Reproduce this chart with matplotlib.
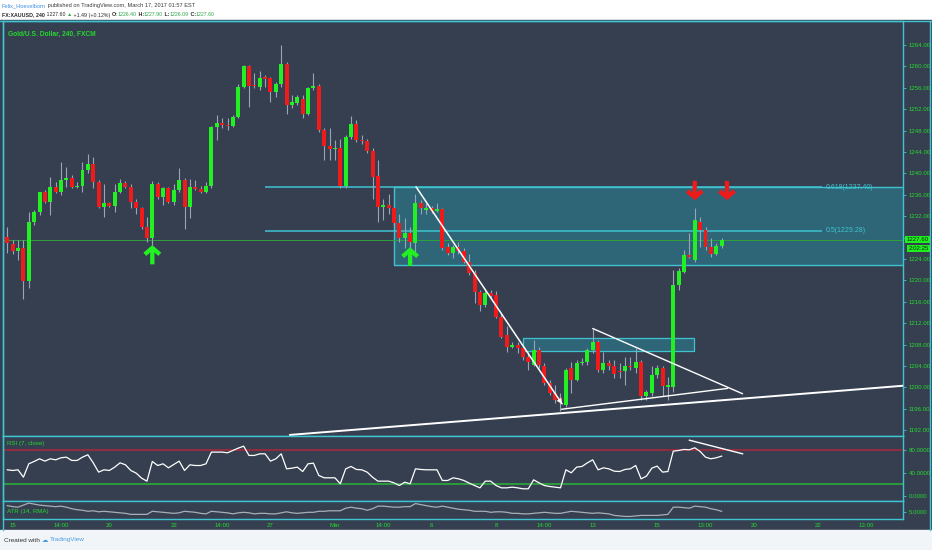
import matplotlib
matplotlib.use("Agg")
import matplotlib.pyplot as plt
import numpy as np
from matplotlib.patches import Rectangle, FancyArrowPatch
from matplotlib.lines import Line2D

plt.rcParams['font.family'] = ['Liberation Sans', 'DejaVu Sans']

# ---- data: XAUUSD 4h candles, bar 0 = first bar of Feb 15 ----
first_bar = -1
opens = [1228.2, 1226.8, 1225.5, 1226.0, 1219.9, 1231.0, 1232.8, 1236.5, 1234.7, 1237.5,
         1236.6, 1238.8, 1239.1, 1237.5, 1237.7, 1240.6, 1241.8, 1238.4, 1233.8, 1234.5,
         1234.0, 1236.6, 1238.3, 1237.4, 1234.7, 1233.5, 1229.9, 1227.9, 1238.1, 1235.5,
         1237.2, 1234.7, 1236.9, 1238.8, 1233.8, 1237.5, 1237.1, 1236.6, 1237.6, 1248.6,
         1249.4, 1249.0, 1248.9, 1250.6, 1256.2, 1260.1, 1256.6, 1256.2, 1258.0, 1257.8,
         1255.3, 1256.7, 1260.4, 1252.8, 1253.2, 1254.0, 1251.1, 1255.9, 1256.3, 1248.2,
         1245.1, 1244.5, 1244.7, 1237.6, 1246.9, 1249.2, 1246.3, 1246.0, 1244.1, 1239.5,
         1233.8, 1234.1, 1233.5, 1230.7, 1227.9, 1228.9, 1227.0, 1234.5, 1233.2, 1233.5,
         1233.0, 1233.3, 1226.2, 1225.2, 1226.2, 1225.4, 1223.5, 1221.3, 1217.9, 1215.4,
         1217.6, 1217.3, 1213.2, 1209.8, 1207.6, 1207.9, 1207.3, 1205.7, 1204.2, 1207.0,
         1203.9, 1200.8, 1199.0, 1198.0, 1196.7, 1203.6, 1201.4, 1204.5, 1204.8, 1206.9,
         1208.5, 1203.3, 1204.6, 1204.0, 1203.1, 1203.0, 1204.0, 1203.6, 1204.8, 1198.4,
         1199.0, 1202.3, 1203.7, 1200.1, 1200.1, 1219.1, 1221.6, 1224.7, 1223.8, 1231.0,
         1229.5, 1226.2, 1224.9, 1226.40]
highs = [1230.0, 1227.5, 1227.5, 1227.5, 1232.8, 1233.1, 1236.6, 1236.9, 1239.4, 1238.4,
         1242.2, 1241.2, 1239.7, 1238.4, 1242.2, 1243.7, 1243.1, 1238.8, 1238.1, 1234.7,
         1238.1, 1238.9, 1238.6, 1238.1, 1235.3, 1233.8, 1231.9, 1238.6, 1238.4, 1237.5,
         1237.5, 1238.1, 1241.0, 1239.1, 1238.9, 1238.8, 1237.7, 1238.4, 1248.9, 1250.9,
         1250.3, 1250.3, 1250.9, 1256.8, 1260.3, 1260.3, 1258.7, 1259.2, 1258.4, 1258.1,
         1257.1, 1264.0, 1260.9, 1254.6, 1254.6, 1254.6, 1256.2, 1258.7, 1256.8, 1248.4,
         1248.4, 1246.2, 1246.5, 1247.2, 1250.7, 1250.0, 1247.2, 1246.5, 1244.7, 1242.5,
         1235.3, 1236.1, 1233.8, 1232.5, 1231.6, 1230.0, 1236.1, 1235.0, 1234.4, 1234.0,
         1234.4, 1233.5, 1226.9, 1226.6, 1227.2, 1226.0, 1225.0, 1221.9, 1218.2, 1218.2,
         1218.2, 1218.1, 1213.8, 1211.4, 1208.5, 1208.5, 1207.6, 1206.7, 1208.9, 1207.6,
         1204.5, 1201.4, 1200.4, 1198.9, 1203.6, 1204.8, 1205.1, 1205.4, 1207.3, 1211.0,
         1208.9, 1206.7, 1205.1, 1205.1, 1204.5, 1205.7, 1205.7, 1207.3, 1205.1, 1199.5,
         1203.9, 1204.2, 1204.0, 1202.0, 1222.0, 1222.3, 1225.7, 1228.8, 1233.6, 1231.9,
         1229.9, 1227.9, 1226.9, 1227.90]
lows = [1225.1, 1225.0, 1223.8, 1216.6, 1218.5, 1230.4, 1232.2, 1234.4, 1232.2, 1236.3,
        1236.0, 1237.5, 1237.2, 1237.2, 1236.6, 1240.0, 1237.2, 1233.5, 1231.9, 1233.8,
        1232.8, 1236.3, 1237.2, 1233.5, 1232.5, 1229.7, 1227.2, 1226.6, 1235.3, 1234.1,
        1234.4, 1234.1, 1236.6, 1229.7, 1231.6, 1236.9, 1236.3, 1236.3, 1237.2, 1246.2,
        1248.4, 1248.1, 1248.7, 1250.3, 1255.9, 1252.5, 1255.9, 1255.6, 1256.2, 1253.4,
        1254.3, 1256.2, 1251.2, 1252.2, 1252.8, 1250.3, 1250.9, 1255.6, 1247.8, 1242.5,
        1242.5, 1242.5, 1237.2, 1237.2, 1246.5, 1245.9, 1245.5, 1243.8, 1235.3, 1231.0,
        1231.3, 1232.5, 1230.0, 1227.2, 1226.0, 1226.0, 1225.0, 1232.5, 1232.5, 1232.6,
        1232.7, 1225.7, 1224.7, 1224.1, 1225.0, 1223.2, 1221.0, 1215.7, 1214.2, 1215.1,
        1216.5, 1212.9, 1209.2, 1206.7, 1207.3, 1206.4, 1205.1, 1203.3, 1203.9, 1203.6,
        1200.4, 1198.6, 1197.0, 1195.5, 1196.4, 1198.9, 1201.1, 1204.2, 1204.2, 1206.5,
        1202.9, 1202.6, 1203.3, 1201.7, 1201.7, 1200.5, 1203.3, 1202.6, 1197.7, 1197.7,
        1198.3, 1201.7, 1198.3, 1197.7, 1199.2, 1218.2, 1221.3, 1224.1, 1223.5, 1226.3,
        1225.7, 1224.4, 1224.7, 1226.09]
closes = [1226.9, 1225.5, 1226.0, 1219.9, 1231.0, 1232.8, 1236.5, 1234.7, 1237.5, 1236.6,
          1238.8, 1239.1, 1237.5, 1237.7, 1240.6, 1241.8, 1238.4, 1233.8, 1234.5, 1234.0,
          1236.6, 1238.3, 1237.4, 1234.7, 1233.5, 1229.9, 1227.9, 1238.1, 1235.5, 1237.2,
          1234.7, 1236.9, 1238.8, 1233.8, 1237.5, 1237.1, 1236.6, 1237.6, 1248.6, 1249.4,
          1249.0, 1248.9, 1250.6, 1256.2, 1260.1, 1256.3, 1256.3, 1257.8, 1257.6, 1255.3,
          1256.8, 1260.4, 1252.8, 1253.4, 1254.2, 1251.2, 1255.9, 1256.3, 1248.2, 1245.1,
          1244.5, 1244.7, 1237.6, 1246.9, 1249.2, 1246.2, 1246.0, 1244.1, 1239.4, 1233.8,
          1234.1, 1233.5, 1230.7, 1227.9, 1228.9, 1227.2, 1234.5, 1233.5, 1233.5, 1233.0,
          1233.3, 1226.0, 1225.2, 1226.2, 1225.4, 1223.5, 1221.3, 1217.9, 1215.4, 1217.6,
          1217.0, 1213.2, 1209.5, 1207.6, 1207.9, 1207.3, 1205.7, 1204.8, 1207.0, 1204.2,
          1200.8, 1198.9, 1197.6, 1197.0, 1203.3, 1201.4, 1204.5, 1204.8, 1207.0, 1208.5,
          1203.3, 1204.6, 1203.9, 1202.5, 1202.8, 1203.9, 1203.8, 1204.8, 1198.4, 1199.2,
          1202.3, 1203.6, 1200.3, 1200.4, 1219.1, 1221.8, 1224.7, 1224.3, 1231.2, 1229.4,
          1226.2, 1224.9, 1226.4, 1227.60]
rsi = [45.9, 44.7, 45.9, 32.9, 56.5, 60.6, 65.3, 61.2, 65.3, 63.5,
       67.1, 68.2, 62.4, 62.4, 68.2, 72.4, 58.2, 41.8, 45.9, 44.7,
       50.6, 58.2, 54.7, 44.7, 40.0, 31.2, 25.9, 60.6, 53.5, 56.5,
       49.4, 55.3, 61.2, 44.7, 54.7, 53.5, 53.5, 56.5, 77.1, 77.1,
       77.1, 75.9, 80.0, 84.1, 87.6, 71.2, 71.2, 74.1, 74.1, 61.2,
       65.3, 74.1, 47.6, 48.8, 50.6, 42.9, 56.5, 57.6, 35.9, 31.8,
       31.8, 31.8, 21.2, 47.6, 51.8, 46.5, 45.9, 41.8, 32.9, 25.9,
       25.9, 25.9, 22.9, 18.2, 24.1, 21.2, 47.6, 46.5, 45.9, 45.9,
       45.9, 27.1, 27.1, 31.8, 30.0, 27.1, 22.4, 18.2, 14.1, 25.9,
       25.9, 18.2, 14.1, 14.1, 15.3, 14.1, 12.4, 12.4, 28.2, 22.9,
       18.2, 16.5, 15.3, 14.1, 45.9, 40.6, 50.6, 51.8, 58.2, 63.5,
       45.9, 49.4, 47.6, 43.5, 42.9, 46.5, 47.6, 53.5, 30.0, 34.7,
       48.8, 52.4, 41.8, 42.9, 78.8, 80.0, 81.8, 81.2, 84.7, 78.2,
       68.2, 65.3, 67.1, 70.0]
atr = [6.2, 6.0, 5.9, 6.3, 6.7, 6.5, 6.3, 6.2, 6.1, 6.0,
       6.1, 5.9, 5.6, 5.4, 5.3, 5.1, 5.2, 5.0, 5.1, 5.0,
       4.9, 4.8, 4.7, 4.5, 4.5, 4.5, 4.5, 5.1, 5.0, 4.9,
       4.8, 4.7, 4.8, 5.1, 5.0, 4.9, 4.7, 4.6, 5.1, 5.0,
       4.9, 4.8, 4.6, 4.8, 4.9, 4.8, 4.6, 4.7, 4.7, 4.6,
       4.6, 4.8, 5.0, 4.8, 4.7, 4.8, 4.9, 4.9, 5.1, 5.1,
       5.2, 5.2, 5.2, 5.7, 5.9, 5.7, 5.6, 5.3, 5.6, 6.1,
       6.1, 6.0, 5.9, 5.9, 6.0, 6.0, 6.6, 6.4, 6.2, 6.0,
       5.9, 6.1, 5.9, 5.7, 5.5, 5.4, 5.3, 5.1, 5.1, 5.1,
       4.9, 5.0, 5.0, 4.9, 4.7, 4.7, 4.6, 4.6, 4.7, 4.8,
       4.9, 4.8, 4.7, 4.7, 4.9, 5.1, 5.0, 4.9, 4.8, 4.7,
       4.8, 4.7, 4.6, 4.3, 4.2, 4.1, 4.1, 4.2, 4.3, 4.3,
       4.3, 4.3, 4.4, 4.5, 5.9, 5.9, 5.8, 5.7, 6.1, 6.0,
       5.9, 5.6, 5.4, 5.1]

tick_bars = [0, 9, 18, 30, 39, 48, 60, 69, 78, 90, 99, 108, 120, 129, 138, 150, 159]
tick_names = ['15', '14:00', '20', '22', '14:00', '27', 'Mar', '14:00', '6', '8',
              '14:00', '13', '15', '13:00', '20', '22', '13:00']
price_ticks = list(range(1192, 1265, 4))
fib_ratios = ['0.618', '0.5']
fib_prices = [1237.40, 1229.28]
change, change_pct = 1.49, 0.12

# drawings on the chart (bar, price)
zone_big = (71.0, 1222.8, 1237.4)          # left bar, bottom, top (open to the right)
zone_small = (95.1, 126.9, 1206.8, 1209.2)  # left, right, bottom, top
down_trend = [(75.1, 1237.5), (102.3, 1196.9)]
tri_upper = [(108.0, 1211.0), (135.9, 1198.8)]
tri_lower = [(102.2, 1195.9), (133.1, 1199.8)]
support = [(51.6, 1191.1), (165.8, 1200.3)]
rsi_trend = [(126.0, 98.1), (135.9, 74.1)]
up_arrows = [(26, 1223.0, 1226.6), (74, 1222.7, 1226.2)]
down_arrows = [(127, 1238.6, 1235.0), (133, 1238.6, 1235.0)]

# ---- style ----
W, H = 932, 550
BG = '#363f50'
CYAN = '#3ec4d0'
TXT_G = '#25d82f'
UP = '#22f022'
DN = '#f01a1a'
WICK = '#9aa4b6'


def rect(x0, y0, x1, y1):
    return [x0 / W, 1 - y1 / H, (x1 - x0) / W, (y1 - y0) / H]


def fpos(x, y):
    return x / W, 1 - y / H


fig = plt.figure(figsize=(W / 100, H / 100), dpi=100, facecolor='white')
fig.add_artist(Rectangle(fpos(0, 530), 1, 510 / H, transform=fig.transFigure,
                         color=BG, zorder=-5))
fig.add_artist(Rectangle(fpos(0, 550), 1, 20 / H, transform=fig.transFigure,
                         color='#f2f5f8', zorder=-5))
for (xa, ya, xb, yb) in [(0, 21, 932, 21), (930, 21, 930, 530), (3, 21, 3, 530)]:
    fig.add_artist(Line2D([xa / W, xb / W], [1 - ya / H, 1 - yb / H],
                          transform=fig.transFigure, color=CYAN, lw=1))

x = np.arange(len(opens)) + first_bar
o = np.array(opens)
c = np.array(closes)
xlim = (-1.8, 165.77)

ax = fig.add_axes(rect(3, 21, 903, 436))
ax_rsi = fig.add_axes(rect(3, 436, 903, 501))
ax_atr = fig.add_axes(rect(3, 501, 903, 519))
for a in (ax, ax_rsi, ax_atr):
    a.set_facecolor(BG)
    a.set_xlim(*xlim)
    a.set_xticks([])
    for s in a.spines.values():
        s.set_color(CYAN)
        s.set_linewidth(1)
    a.yaxis.tick_right()
    a.tick_params(axis='y', length=2.5, width=0.6, color=CYAN, labelcolor=TXT_G,
                  labelsize=4.4, pad=1.5)

# ---- main price pane ----
ax.set_ylim(1190.9, 1268.5)
ax.set_yticks(price_ticks)
# the label under the last-price tag is hidden, as on the chart
ax.set_yticklabels(['' if abs(p - closes[-1]) < 2.5 else f'{p:.2f}' for p in price_ticks])

cols = np.where(c >= o, UP, DN)
ax.vlines(x, lows, highs, color=WICK, lw=0.8, zorder=3)
ax.bar(x, np.maximum(np.abs(c - o), 0.15), bottom=np.minimum(o, c), width=0.74,
       color=cols, linewidth=0, zorder=4)

ax.axhline(closes[-1], color='#2fa33c', lw=0.7, zorder=2)

zone_fc = (0.12, 0.71, 0.78, 0.33)
ax.add_patch(Rectangle((zone_big[0], zone_big[1]), xlim[1] + 5 - zone_big[0],
                       zone_big[2] - zone_big[1], fc=zone_fc, ec=CYAN, lw=1, zorder=1))
ax.add_patch(Rectangle((zone_small[0], zone_small[2]), zone_small[1] - zone_small[0],
                       zone_small[3] - zone_small[2], fc=zone_fc, ec=CYAN, lw=0.9, zorder=1))

ax.hlines(fib_prices, 47.0, 150.7, color=CYAN, lw=1.1, zorder=1.5)
for r, p in zip(fib_ratios, fib_prices):
    ax.text(151.4, p, f'{r}({p:.2f})', color=CYAN, fontsize=5, va='center', ha='left',
            zorder=2)

for seg, lw in [(down_trend, 1.1), (tri_upper, 1.0), (tri_lower, 1.0), (support, 1.4)]:
    ax.plot([seg[0][0], seg[1][0]], [seg[0][1], seg[1][1]], color='white', lw=lw,
            zorder=5, solid_capstyle='round')
ax.add_patch(FancyArrowPatch(down_trend[0], down_trend[1],
                             arrowstyle='-|>,head_length=4,head_width=2',
                             color='white', lw=0, zorder=5, shrinkA=0, shrinkB=0))

for arrows, col in [(up_arrows, UP), (down_arrows, DN)]:
    for bar, tail, head in arrows:
        ax.add_patch(FancyArrowPatch((bar, tail), (bar, head),
                                     arrowstyle='->,head_length=4.6,head_width=5.4',
                                     color=col, lw=3.1, zorder=6, shrinkA=0, shrinkB=0,
                                     joinstyle='miter', capstyle='butt'))

# last price tags on the price scale
ax.annotate(f'{closes[-1]:.2f}', xy=(1, closes[-1]), xycoords=('axes fraction', 'data'),
            xytext=(2.5, 0), textcoords='offset points', fontsize=4.4, color='#142014',
            va='center', ha='left', annotation_clip=False,
            bbox=dict(boxstyle='square,pad=0.2', fc='#1ef01e', ec='none'))
ax.annotate('2:02:25', xy=(1, closes[-1]), xycoords=('axes fraction', 'data'),
            xytext=(4, -6.3), textcoords='offset points', fontsize=4.4, color='#142014',
            va='center', ha='left', annotation_clip=False,
            bbox=dict(boxstyle='square,pad=0.2', fc='#1ef01e', ec='none'))

# ---- RSI pane ----
ax_rsi.set_ylim(-9.1, 105.5)
ax_rsi.axhline(80, color='#a5283a', lw=1.2, zorder=1)
ax_rsi.axhline(20, color='#2ca33e', lw=1.3, zorder=1)
ax_rsi.plot(x, rsi, color='white', lw=0.9, zorder=2)
ax_rsi.plot([rsi_trend[0][0], rsi_trend[1][0]], [rsi_trend[0][1], rsi_trend[1][1]],
            color='white', lw=1.0, zorder=3)
ax_rsi.set_yticks([0, 40, 80])
ax_rsi.set_yticklabels(['0.0000', '40.0000', '80.0000'])

# ---- ATR pane ----
ax_atr.set_ylim(3.6, 7.1)
ax_atr.plot(x, atr, color='#a8adb7', lw=0.9)
ax_atr.set_yticks([5])
ax_atr.set_yticklabels(['5.0000'])
ax_atr.set_xticks(tick_bars)
ax_atr.set_xticklabels(tick_names)
ax_atr.tick_params(axis='x', length=0, labelcolor=TXT_G, labelsize=4.4, pad=2.6)

# ---- texts ----
fig.text(*fpos(8, 34), 'Gold/U.S. Dollar, 240, FXCM', color=TXT_G, fontsize=4.8,
         fontweight='bold', va='center')
fig.text(*fpos(7, 443), 'RSI (7, close)', color=TXT_G, fontsize=4.4, va='center')
fig.text(*fpos(7, 511), 'ATR (14, RMA)', color=TXT_G, fontsize=4.4, va='center')

renderer = fig.canvas.get_renderer()


def seq_text(x0, y0, parts, size):
    xx = x0
    for s, col, wt in parts:
        t = fig.text(*fpos(xx, y0), s, color=col, fontsize=size, fontweight=wt,
                     va='center', ha='left')
        xx += t.get_window_extent(renderer=renderer).width


dark = '#2a2a2a'
val_g = '#2fa84a'
seq_text(2, 6, [('Felix_Hoevelborn', '#3a8ee6', 'normal'),
                (' published on TradingView.com, March 17, 2017 01:57 EST', '#3a3a3a', 'normal')],
         4.1)
seq_text(2, 15, [('FX:XAUUSD, 240', dark, 'bold'),
                 (f' {closes[-1]:.2f} ', dark, 'normal'), ('▲', val_g, 'normal'),
                 (f' +{change:.2f} (+{change_pct:.2f}%) ', dark, 'normal'),
                 ('O:', dark, 'bold'), (f'{opens[-1]:.2f}', val_g, 'normal'),
                 (' H:', dark, 'bold'), (f'{highs[-1]:.2f}', val_g, 'normal'),
                 (' L:', dark, 'bold'), (f'{lows[-1]:.2f}', val_g, 'normal'),
                 (' C:', dark, 'bold'), (f'{closes[-1]:.2f}', val_g, 'normal')],
         3.8)
seq_text(4, 540, [('Created with ', '#333333', 'normal'), ('☁ ', '#4a9ee0', 'normal'),
                  ('TradingView', '#4a9ee0', 'normal')], 4.6)

fig.savefig('out.png', dpi=100, facecolor=fig.get_facecolor())
